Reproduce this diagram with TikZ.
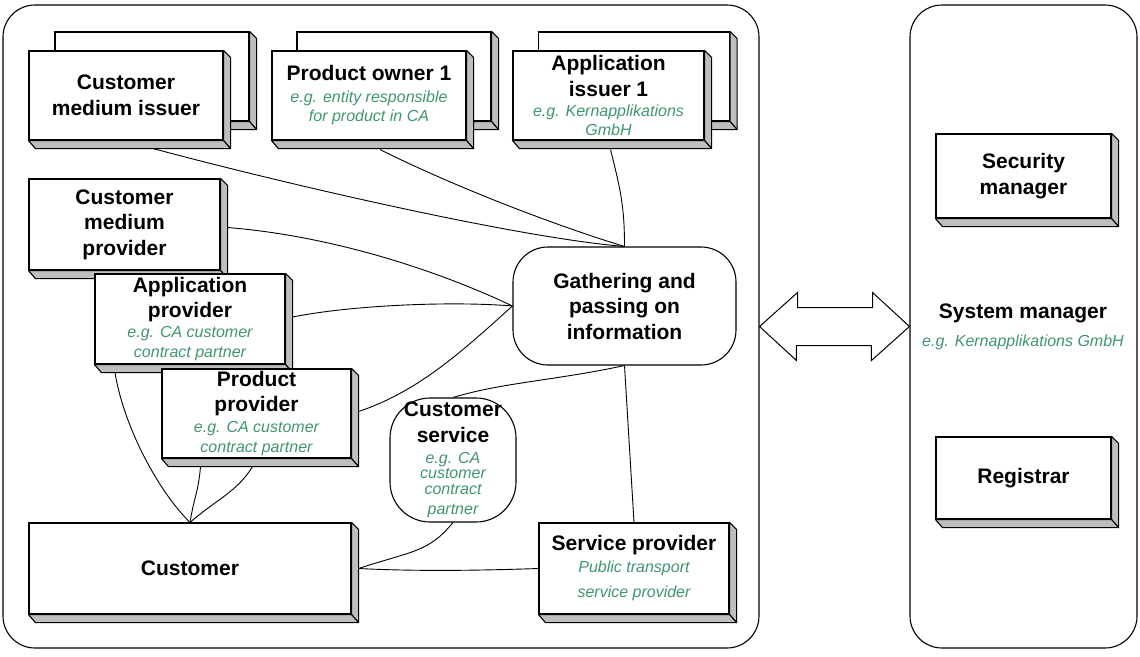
\documentclass[tikz,border=0pt]{standalone}
\usepackage{fontspec}
\setmainfont{Liberation Sans}
\usetikzlibrary{backgrounds}

\definecolor{egreen}{RGB}{64,150,110}
\definecolor{faceshade}{RGB}{190,190,190}

% green example text inside a box
\newcommand{\eg}[1]{{\fontsize{16}{19}\selectfont\mdseries\itshape\color{egreen}#1}}
% right and bottom faces of a raised box
\newcommand{\sidefaces}[1]{%
  \filldraw[fill=faceshade,line width=1.1pt,line join=round] (#1.north east) -- ++(7,7) -- ([shift={(7,8)}]#1.south east) -- (#1.south east) -- cycle;
  \filldraw[fill=faceshade,line width=1.1pt,line join=round] (#1.south west) -- ++(7,8) -- ([shift={(7,8)}]#1.south east) -- (#1.south east) -- cycle;
}

\tikzset{
  actor/.style={draw, fill=white, line width=1.1pt, inner sep=0pt, align=center,
    font=\fontsize{21}{25.5}\selectfont\bfseries},
  hub/.style={actor, rounded corners=35},
  container/.style={draw, line width=1.1pt, rounded corners=32},
  link/.style={line width=0.9pt},
}

\begin{document}
\begin{tikzpicture}[x=1pt,y=-1pt]
\useasboundingbox (0,0) rectangle (1140,656);

% The two frames
\node[container, minimum width=756, minimum height=643] (infra) at (381,326.5) {};
\node[container, minimum width=227, minimum height=643] (mgmt) at (1023.5,326.5) {};

% The stacked boxes on top
\node[actor, minimum width=194, minimum height=89] (cmi back) at (152,76.5) {};
\sidefaces{cmi back}
\node[actor, minimum width=194, minimum height=89] (cmi) at (126,95.5) {Customer\\[1pt]medium issuer};
\sidefaces{cmi}

\node[actor, minimum width=194, minimum height=89] (po back) at (394,76.5) {};
\sidefaces{po back}
\node[actor, minimum width=194, minimum height=89] (po) at (369,95.5)
  {Product owner 1\\[-3.5pt]\eg{e.g. entity responsible}\\[-6.5pt]\eg{for product in CA}};
\sidefaces{po}

\node[actor, minimum width=191, minimum height=89] (ai back) at (634,76.5) {};
\sidefaces{ai back}
\node[actor, minimum width=191, minimum height=89] (ai) at (608.5,95.5)
  {Application\\issuer 1\\[-5.5pt]\eg{e.g. Kernapplikations}\\[-6.5pt]\eg{GmbH}};
\sidefaces{ai}

% The providers
\node[actor, minimum width=191, minimum height=91] (cmp) at (124.5,224.5) {Customer\\medium\\provider};
\sidefaces{cmp}
\node[actor, minimum width=190, minimum height=90] (ap) at (190,319)
  {Application\\provider\\[-5.5pt]\eg{e.g. CA customer}\\[-5.5pt]\eg{contract partner}};
\sidefaces{ap}
\node[actor, minimum width=189, minimum height=89] (pp) at (256.5,413.5)
  {Product\\provider\\[-4.5pt]\eg{e.g. CA customer}\\[-5.5pt]\eg{contract partner}};
\sidefaces{pp}

% Customer and service provider
\node[actor, minimum width=322, minimum height=91] (cust) at (190,568.5) {Customer};
\sidefaces{cust}
\node[actor, minimum width=190, minimum height=91] (sp) at (634,568.5)
  {Service provider\\[-3.5pt]\eg{Public transport}\\[-0.5pt]\eg{service provider}};
\sidefaces{sp}

% The rounded ones
\node[hub, minimum width=223, minimum height=118] (gath) at (624.5,306) {Gathering and\\passing on\\information};
\node[hub, rounded corners=40, minimum width=126, minimum height=124] (cs) at (453,460)
  {Customer\\service\\[-4.5pt]\eg{e.g. CA}\\[-10.5pt]\eg{customer}\\[-9.5pt]\eg{contract}\\[-5.5pt]\eg{partner}};

% System manager side
\node[actor, minimum width=175, minimum height=84] (sm) at (1023.5,176) {Security\\manager};
\sidefaces{sm}
\node[actor, minimum width=175, minimum height=82] (reg) at (1023.5,478) {Registrar};
\sidefaces{reg}
\node[align=center, font=\fontsize{21}{25.5}\selectfont\bfseries] (sysm) at (1023,327)
  {System manager\\[2.5pt]\eg{e.g. Kernapplikations GmbH}};

% The double arrow between the frames
\draw[line width=1pt, fill=white] (infra.east) -- ++(38,-34) -- ++(0,15) -- ++(75,0) -- ++(0,-15)
  -- (mgmt.west) -- ++(-38,34) -- ++(0,-15) -- ++(-75,0) -- ++(0,15) -- cycle;

% The links
\begin{scope}[on background layer]
\draw[link] ([shift={(27,8)}]cmi.south) .. controls +(150,40) and +(-100,-8) .. (gath.north);
\draw[link] ([shift={(11,9)}]po.south) .. controls +(80,40) and +(-60,-18) .. (gath.north);
\draw[link] ([shift={(2,9)}]ai.south) .. controls +(10,40) and +(0,-40) .. (gath.north);
\draw[link] ([shift={(7,3)}]cmp.east) .. controls +(100,8) and +(-80,-38) .. (gath.west);
\draw[link] ([shift={(7,-2)}]ap.east) .. controls +(60,-12) and +(-60,-5) .. (gath.west);
\draw[link] ([shift={(7,-2)}]pp.east) .. controls +(60,-20) and +(-50,45) .. (gath.west);
\draw[link] (gath.south) .. controls +(-70,15) and +(50,-15) .. (cs.north);
\draw[link] (gath.south) -- (sp.north);
\draw[link] ([shift={(7,0)}]cust.east) .. controls +(55,-18) and +(-25,30) .. (cs.south);
\draw[link] ([shift={(7,0)}]cust.east) .. controls +(60,3) and +(-60,2) .. (sp.west);
\draw[link] ([shift={(-56,8)}]pp.south) .. controls +(-2,25) and +(4,-25) .. (cust.north);
\draw[link] ([shift={(-4,8)}]pp.south) .. controls +(-15,25) and +(25,-22) .. (cust.north);
\draw[link] ([shift={(-75,8)}]ap.south) .. controls +(8,50) and +(-35,-35) .. (cust.north);
\end{scope}
\end{tikzpicture}
\end{document}
